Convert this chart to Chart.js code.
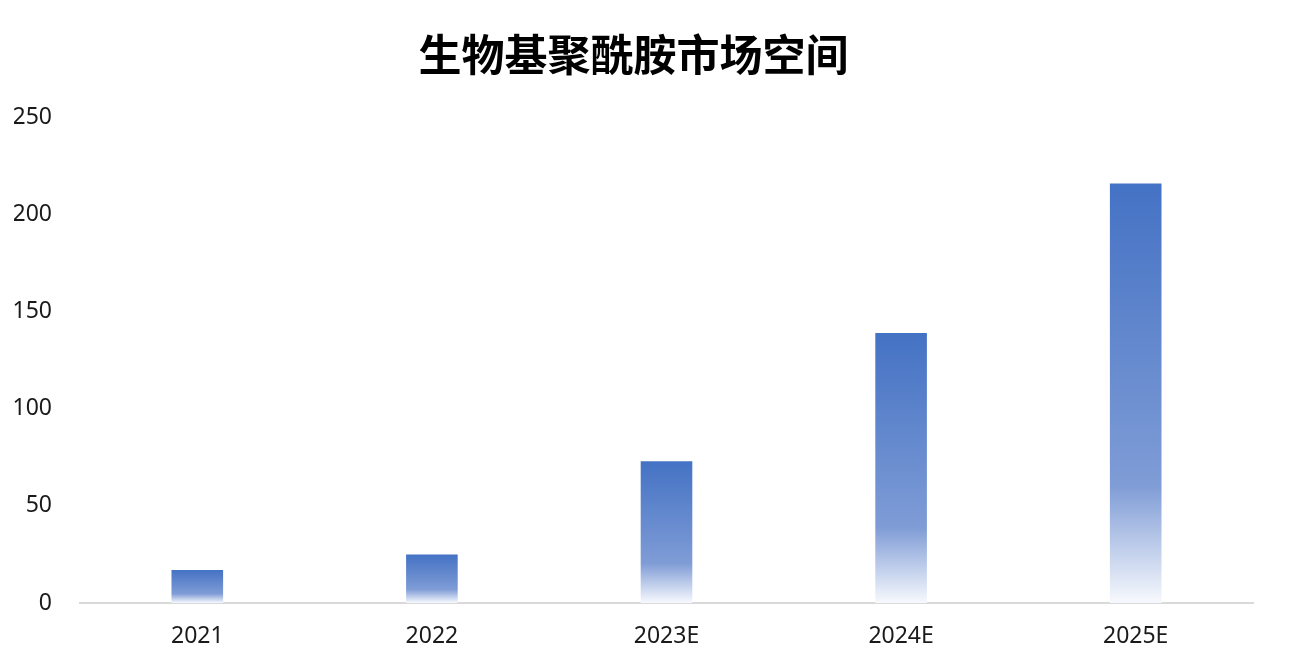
<!DOCTYPE html>
<html>
<head>
<meta charset="utf-8">
<script src="https://cdn.jsdelivr.net/npm/chart.js@4"></script>
<style>
  html, body { margin: 0; padding: 0; background: #fff; }
  #wrap { width: 1292px; height: 668px; }
</style>
</head>
<body>
<div id="wrap"><canvas id="myChart"></canvas></div>
<script>
const years = ['2021', '2022', '2023E', '2024E', '2025E'];
const market = [17, 25, 73, 139, 216];
const yTicks = [0, 50, 100, 150, 200, 250];

// each bar fades from blue at the top to white at the baseline
function barGradient(context) {
  const chart = context.chart;
  const area = chart.chartArea;
  if (!area || context.dataIndex === undefined) return '#4472C4';
  const y = chart.scales.y;
  const top = y.getPixelForValue(context.raw);
  const base = y.getPixelForValue(0);
  const g = chart.ctx.createLinearGradient(0, top, 0, base);
  g.addColorStop(0, '#4472C4');
  g.addColorStop(0.72, '#7f9cd6');
  g.addColorStop(1, '#f7f9fd');
  return g;
}

const tickFont = { family: '"Noto Sans", sans-serif', size: 23 };

const data = {
  labels: years,
  datasets: [{
    label: '市场空间',
    data: market,
    backgroundColor: barGradient,
    borderWidth: 0,
    barPercentage: 0.22,
    categoryPercentage: 1
  }]
};

const config = {
  type: 'bar',
  data: data,
  options: {
    responsive: true,
    maintainAspectRatio: false,
    animation: false,
    layout: { padding: { left: 14, right: 39, bottom: 0, top: 0 } },
    plugins: {
      legend: { display: false },
      tooltip: { enabled: false },
      title: {
        display: true,
        text: '生物基聚酰胺市场空间',
        color: '#000',
        font: { family: '"Noto Sans CJK SC", sans-serif', size: 43, weight: 'bold', lineHeight: 1.2 },
        padding: { top: 29, bottom: 37 }
      }
    },
    scales: {
      x: {
        grid: { display: false, drawTicks: false },
        border: { display: true, color: '#d9d9d9', width: 2 },
        ticks: { color: '#1a1a1a', padding: 20, font: tickFont },
        afterFit: (axis) => { axis.height = 65; }
      },
      y: {
        min: 0,
        max: 250,
        afterBuildTicks: (axis) => { axis.ticks = yTicks.map(v => ({ value: v })); },
        grid: { display: false, drawTicks: false },
        border: { display: false },
        ticks: { color: '#1a1a1a', padding: 28, font: tickFont },
        afterFit: (axis) => { axis.width = 66; }
      }
    }
  }
};

const myChart = new Chart(document.getElementById('myChart'), config);
</script>
</body>
</html>
